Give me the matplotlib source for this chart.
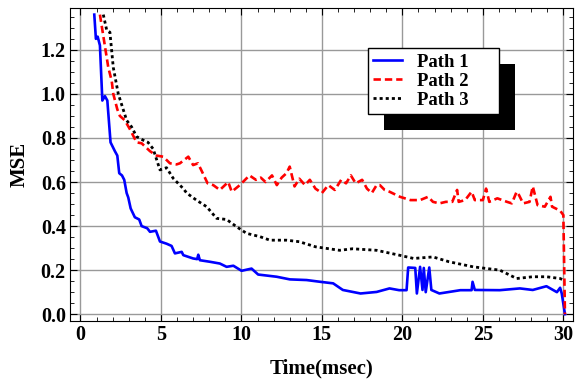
import matplotlib.pyplot as plt
from matplotlib.patches import Rectangle
from matplotlib.ticker import MultipleLocator

plt.rcParams['font.family'] = ['Liberation Serif', 'DejaVu Serif']
plt.rcParams['font.weight'] = 'bold'

# Path 1 (blue, solid)
t1 = [0.86, 0.96, 1.07, 1.21, 1.36, 1.52, 1.67, 1.87, 2.14, 2.29, 2.41, 2.58, 2.72, 2.87,
      2.97, 3.12, 3.38, 3.65, 3.80, 4.15, 4.32, 4.69, 4.94, 5.35, 5.66, 5.87, 6.29, 6.39,
      7.00, 7.25, 7.32, 7.42, 8.04, 8.66, 9.08, 9.50, 10.01, 10.63, 11.04, 12.19, 13.01,
      14.05, 14.90, 15.70, 16.30, 17.40, 18.40, 19.20, 19.80, 20.26, 20.36, 20.80, 20.90,
      21.10, 21.25, 21.33, 21.45, 21.67, 21.80, 22.30, 23.60, 24.30, 24.36, 24.50, 26.05,
      27.30, 28.10, 28.95, 29.60, 29.80, 29.90, 30.10]
mse1 = [1.36, 1.25, 1.26, 1.22, 0.97, 0.99, 0.97, 0.78, 0.74, 0.72, 0.64, 0.63, 0.61, 0.55,
        0.53, 0.48, 0.44, 0.43, 0.40, 0.39, 0.374, 0.379, 0.33, 0.32, 0.31, 0.276, 0.283, 0.268,
        0.253, 0.25, 0.27, 0.245, 0.238, 0.23, 0.215, 0.22, 0.197, 0.207, 0.18, 0.17, 0.158,
        0.155, 0.147, 0.14, 0.11, 0.094, 0.101, 0.117, 0.109, 0.109, 0.212, 0.21, 0.094,
        0.215, 0.11, 0.21, 0.10, 0.212, 0.11, 0.094, 0.109, 0.109, 0.147, 0.11, 0.109,
        0.117, 0.11, 0.127, 0.10, 0.12, 0.094, 0.0]

# Path 2 (red, dashed)
t2 = [1.21, 1.73, 1.94, 2.04, 2.29, 2.45, 2.76, 3.07, 3.49, 3.80, 4.32, 4.73, 5.14, 5.56,
      5.97, 6.18, 6.70, 7.00, 7.30, 7.60, 7.90, 8.25, 8.66, 9.18, 9.40, 9.90, 10.50, 10.90,
      11.20, 11.50, 11.90, 12.20, 12.50, 12.80, 13.00, 13.30, 13.60, 13.95, 14.25, 14.60,
      15.00, 15.40, 15.80, 16.20, 16.50, 16.80, 17.10, 17.50, 17.80, 18.10, 18.40, 18.60,
      18.90, 19.20, 19.85, 20.50, 21.10, 21.60, 21.90, 22.30, 22.70, 23.10, 23.40, 23.50,
      23.90, 24.30, 24.50, 25.00, 25.20, 25.40, 25.90, 26.50, 26.80, 27.10, 27.25, 27.50,
      27.90, 28.10, 28.40, 28.85, 29.20, 29.30, 29.80, 30.00, 30.10]
mse2 = [1.36, 1.12, 1.06, 1.00, 0.93, 0.90, 0.88, 0.84, 0.78, 0.776, 0.74, 0.72, 0.715, 0.685,
        0.68, 0.685, 0.715, 0.677, 0.685, 0.64, 0.594, 0.586, 0.564, 0.60, 0.556, 0.586, 0.63, 0.61,
        0.62, 0.60, 0.63, 0.586, 0.62, 0.64, 0.67, 0.58, 0.615, 0.586, 0.61, 0.57,
        0.55, 0.586, 0.564, 0.61, 0.594, 0.63, 0.594, 0.61, 0.57, 0.55, 0.586, 0.586,
        0.564, 0.556, 0.533, 0.518, 0.518, 0.533, 0.51, 0.503, 0.51, 0.51, 0.564, 0.51,
        0.518, 0.556, 0.518, 0.518, 0.57, 0.51, 0.526, 0.51, 0.503, 0.556, 0.54, 0.503,
        0.51, 0.58, 0.495, 0.488, 0.533, 0.488, 0.47, 0.45, 0.0]

# Path 3 (black, dotted)
t3 = [1.42, 1.63, 1.83, 2.04, 2.35, 2.87, 3.18, 3.49, 3.90, 4.20, 4.52, 4.94, 5.35, 5.76,
      6.39, 6.60, 7.20, 7.84, 8.46, 9.08, 9.70, 10.32, 11.15, 11.77, 12.80, 13.60, 14.60,
      16.10, 16.90, 18.40, 19.80, 20.70, 21.90, 22.90, 24.40, 26.05, 27.10, 28.10, 28.95,
      29.80, 30.00]
mse3 = [1.36, 1.29, 1.28, 1.12, 1.00, 0.88, 0.85, 0.806, 0.79, 0.78, 0.75, 0.655, 0.665, 0.617,
        0.57, 0.55, 0.518, 0.488, 0.435, 0.43, 0.397, 0.367, 0.352, 0.336, 0.336, 0.329, 0.306,
        0.29, 0.297, 0.29, 0.268, 0.253, 0.26, 0.238, 0.215, 0.20, 0.162, 0.17, 0.17,
        0.162, 0.155]

fig, ax = plt.subplots(figsize=(5.76, 3.81), dpi=100)
fig.subplots_adjust(left=0.1215, right=0.9948, top=0.979, bottom=0.158)

ax.plot(t1, mse1, '-', color='#0000ff', lw=1.9, label='Path 1')
ax.plot(t2, mse2, '--', color='#ff0000', lw=1.9, dashes=(2.8, 1.5), label='Path 2')
ax.plot(t3, mse3, ':', color='black', lw=2, dashes=(1.1, 1.1), label='Path 3')

ax.set_xlim(-0.65, 30.6)
ax.set_ylim(-0.03, 1.39)
ax.xaxis.set_major_locator(MultipleLocator(5))
ax.xaxis.set_minor_locator(MultipleLocator(1))
ax.yaxis.set_major_locator(MultipleLocator(0.2))
ax.yaxis.set_minor_locator(MultipleLocator(0.05))
ax.yaxis.set_major_formatter(plt.FormatStrFormatter('%.1f'))
ax.tick_params(which='both', direction='in', top=True, right=True, labelsize=14.5)
ax.tick_params(which='major', length=5, pad=3)
ax.tick_params(which='minor', length=3)
ax.grid(True, color='#999999', lw=1)

ax.set_xlabel('Time(msec)', fontsize=15, fontweight='bold', labelpad=10)
ax.set_ylabel('MSE', fontsize=15, fontweight='bold', labelpad=8)

leg = ax.legend(loc='upper left', bbox_to_anchor=(0.592, 0.664, 0.261, 0.208), mode='expand',
                fancybox=False, framealpha=1, edgecolor='black', fontsize=13.5,
                borderaxespad=0, borderpad=0.3, handlelength=1.5, handletextpad=0.85,
                labelspacing=0.1)
leg.get_frame().set_linewidth(1)

fig.canvas.draw()
bb = leg.get_window_extent().transformed(ax.transAxes.inverted())
ax.add_patch(Rectangle((bb.x0 + 16 / 503, bb.y0 - 16 / 313), bb.width, bb.height,
                       transform=ax.transAxes, facecolor='black', zorder=4.5))

fig.savefig('out.png')
